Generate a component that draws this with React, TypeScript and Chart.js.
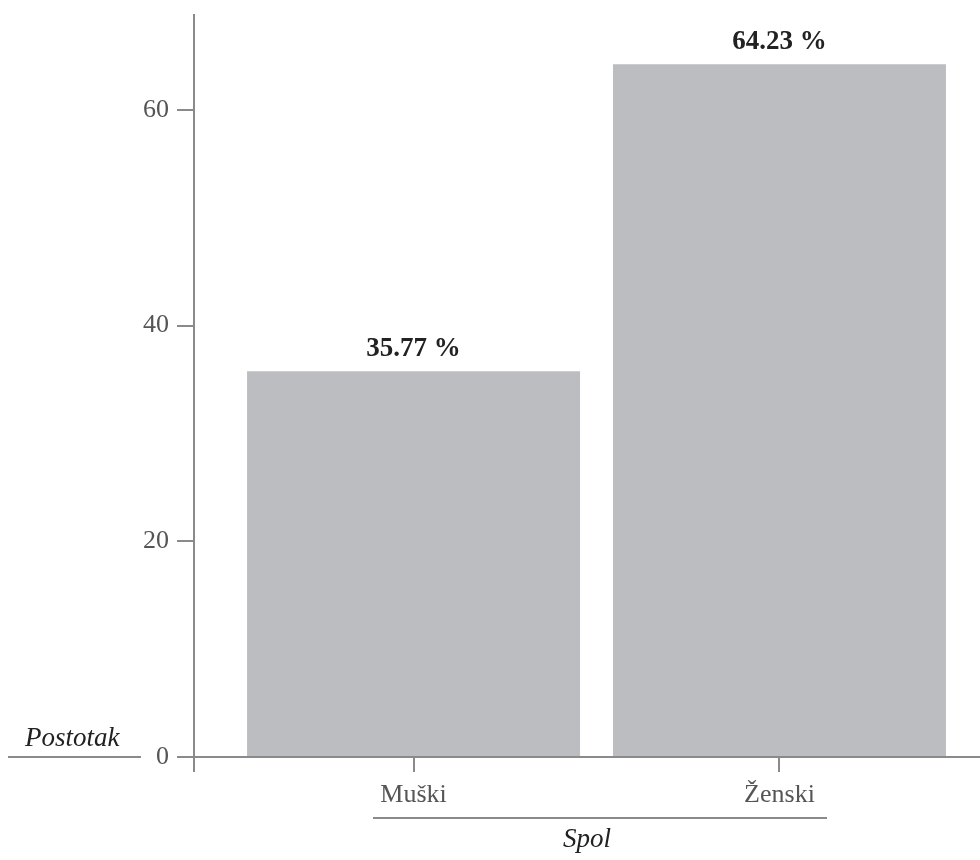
import React, { useEffect, useRef } from "react";
import { Chart, registerables } from "chart.js";

Chart.register(...registerables);

const categories: string[] = ["Muški", "Ženski"];
const percentages: number[] = [35.77, 64.23];
const yTickValues: number[] = [0, 20, 40, 60];
const xTitle = "Spol";
const yTitle = "Postotak";

const AXIS = "#8a8a8a";
const TICK_TEXT = "#555555";
const DARK = "#222222";
const BAR = "#bcbdc1";
const SERIF = "'Liberation Serif', 'Times New Roman', serif";

export default function App() {
  const ref = useRef<HTMLCanvasElement | null>(null);

  useEffect(() => {
    if (!ref.current) return;

    const labelPlugin = {
      id: "valueLabels",
      afterDatasetsDraw(chart: any) {
        const ctx = chart.ctx;
        const meta = chart.getDatasetMeta(0);
        ctx.save();
        ctx.font = `bold 27px ${SERIF}`;
        ctx.fillStyle = DARK;
        ctx.textAlign = "center";
        ctx.textBaseline = "alphabetic";
        meta.data.forEach((el: any, i: number) => {
          ctx.fillText(percentages[i].toFixed(2) + " %", el.x, el.y - 15);
        });
        ctx.restore();
      },
    };

    const decoPlugin = {
      id: "deco",
      afterDraw(chart: any) {
        const ctx = chart.ctx;
        const area = chart.chartArea;
        ctx.save();
        ctx.font = `italic 27px ${SERIF}`;
        ctx.fillStyle = DARK;
        ctx.textAlign = "left";
        ctx.textBaseline = "alphabetic";
        ctx.fillText(yTitle, 25, area.bottom - 11);
        ctx.strokeStyle = AXIS;
        ctx.lineWidth = 2;
        // underline under y title
        ctx.beginPath();
        ctx.moveTo(8, area.bottom);
        ctx.lineTo(141, area.bottom);
        ctx.stroke();
        // rule above x title
        ctx.beginPath();
        ctx.moveTo(373, area.bottom + 61);
        ctx.lineTo(827, area.bottom + 61);
        ctx.stroke();
        // y axis extension below x axis
        ctx.beginPath();
        ctx.moveTo(area.left, area.bottom);
        ctx.lineTo(area.left, area.bottom + 15);
        ctx.stroke();
        ctx.restore();
      },
    };

    const chart = new Chart(ref.current, {
      type: "bar",
      data: {
        datasets: [
          {
            data: percentages.map((v, i) => ({ x: i, y: v })),
            backgroundColor: BAR,
            borderWidth: 0,
            categoryPercentage: 1,
            barPercentage: 0.91,
          },
        ],
      },
      options: {
        animation: false,
        responsive: true,
        maintainAspectRatio: false,
        layout: { padding: 0 },
        plugins: {
          legend: { display: false },
          tooltip: { enabled: false },
        },
        scales: {
          x: {
            type: "linear",
            offset: false,
            min: -0.6,
            max: 1.548,
            afterFit(scale: any) {
              scale.height = 103;
            },
            afterBuildTicks(scale: any) {
              scale.ticks = categories.map((_, i) => ({ value: i }));
            },
            ticks: {
              autoSkip: false,
              maxRotation: 0,
              padding: 8,
              color: TICK_TEXT,
              font: { family: SERIF, size: 26 },
              callback: (v: any) => (Number.isInteger(v) && categories[v] !== undefined ? categories[v] : ""),
            },
            grid: {
              display: true,
              offset: false,
              drawOnChartArea: false,
              drawTicks: true,
              tickLength: 15,
              color: AXIS,
              lineWidth: 2,
            },
            border: { display: true, color: AXIS, width: 2 },
            title: {
              display: true,
              text: xTitle,
              color: DARK,
              font: { family: SERIF, size: 27, style: "italic" },
              padding: { top: 0, bottom: 4 },
            },
          },
          y: {
            type: "linear",
            min: 0,
            max: 68.8,
            afterFit(scale: any) {
              scale.width = 194;
              scale.paddingTop = 15;
              scale.paddingBottom = 0;
            },
            afterBuildTicks(scale: any) {
              scale.ticks = yTickValues.map((v) => ({ value: v }));
            },
            ticks: {
              padding: 8,
              color: TICK_TEXT,
              font: { family: SERIF, size: 26 },
            },
            grid: {
              display: true,
              drawOnChartArea: false,
              drawTicks: true,
              tickLength: 17,
              color: AXIS,
              lineWidth: 2,
            },
            border: { display: true, color: AXIS, width: 2 },
          },
        },
      },
      plugins: [labelPlugin, decoPlugin],
    } as any);

    return () => chart.destroy();
  }, []);

  return (
    <div style={{ position: "absolute", left: 0, top: 0, width: 980, height: 860 }}>
      <canvas ref={ref} />
    </div>
  );
}
